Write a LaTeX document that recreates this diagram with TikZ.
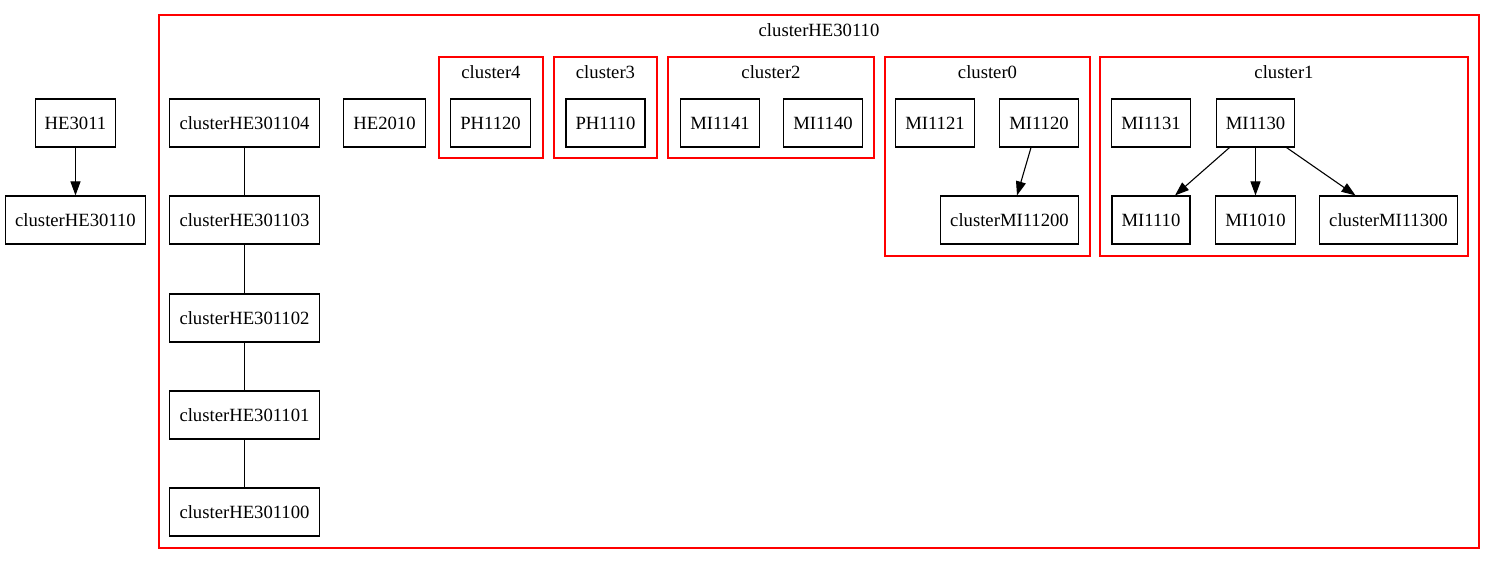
\documentclass[tikz,border=0pt]{standalone}
\usepackage{fontspec}
\setmainfont{Liberation Serif}
\usetikzlibrary{arrows.meta}
\begin{document}
\begin{tikzpicture}[x=1pt,y=-1pt,
  every node/.style={font=\fontsize{18.67}{22}\selectfont},
  gbox/.style={draw,line width=1.1pt,rectangle,minimum height=48,inner xsep=9.6,minimum width=72},
  clus/.style={draw=red,line width=1.1pt},
  clab/.style={inner sep=0},
  arr/.style={line width=1.1pt,-{Triangle[length=14,width=10]}},
  lin/.style={line width=1.1pt}]
\useasboundingbox (0,0) rectangle (1495,564);
% clusters
\draw[clus] (159,15) rectangle (1479,548);
\node[clab] (lbig) at (819,30) {clusterHE30110};
\draw[clus] (439,57) rectangle (543,158);
\node[clab] (l4) at (491,72) {cluster4};
\draw[clus] (554,57) rectangle (657,158);
\node[clab] (l3) at (605.5,72) {cluster3};
\draw[clus] (668,57) rectangle (874,158);
\node[clab] (l2) at (771,72) {cluster2};
\draw[clus] (885,57) rectangle (1090,256);
\node[clab] (l0) at (987.5,72) {cluster0};
\draw[clus] (1100,57) rectangle (1468,256);
\node[clab] (l1) at (1284,72) {cluster1};
% nodes
\node[gbox] (HE3011) at (75.5,123) {HE3011};
\node[gbox] (cHE30110) at (75.5,220) {clusterHE30110};
\node[gbox] (c104) at (244.5,123) {clusterHE301104};
\node[gbox] (c103) at (244.5,220) {clusterHE301103};
\node[gbox] (c102) at (244.5,318) {clusterHE301102};
\node[gbox] (c101) at (244.5,415) {clusterHE301101};
\node[gbox] (c100) at (244.5,512) {clusterHE301100};
\node[gbox] (HE2010) at (384.5,123) {HE2010};
\node[gbox] (PH1120) at (490.5,123) {PH1120};
\node[gbox] (PH1110) at (605.5,123) {PH1110};
\node[gbox] (MI1141) at (720,123) {MI1141};
\node[gbox] (MI1140) at (823,123) {MI1140};
\node[gbox] (MI1121) at (935,123) {MI1121};
\node[gbox] (MI1120) at (1039,123) {MI1120};
\node[gbox] (cMI11200) at (1009.5,220) {clusterMI11200};
\node[gbox] (MI1131) at (1151,123) {MI1131};
\node[gbox] (MI1130) at (1255.5,123) {MI1130};
\node[gbox] (MI1110) at (1151,220) {MI1110};
\node[gbox] (MI1010) at (1255.5,220) {MI1010};
\node[gbox] (cMI11300) at (1388.5,220) {clusterMI11300};
% edges
\draw[arr] (HE3011) -- (cHE30110);
\draw[lin] (c104) -- (c103);
\draw[lin] (c103) -- (c102);
\draw[lin] (c102) -- (c101);
\draw[lin] (c101) -- (c100);
\draw[arr] ([xshift=-8]MI1120.south) -- ([xshift=7.5]cMI11200.north);
\draw[arr] ([xshift=-26]MI1130.south) -- ([xshift=24]MI1110.north);
\draw[arr] (MI1130) -- (MI1010);
\draw[arr] ([xshift=31]MI1130.south) -- ([xshift=-33]cMI11300.north);
\end{tikzpicture}
\end{document}
